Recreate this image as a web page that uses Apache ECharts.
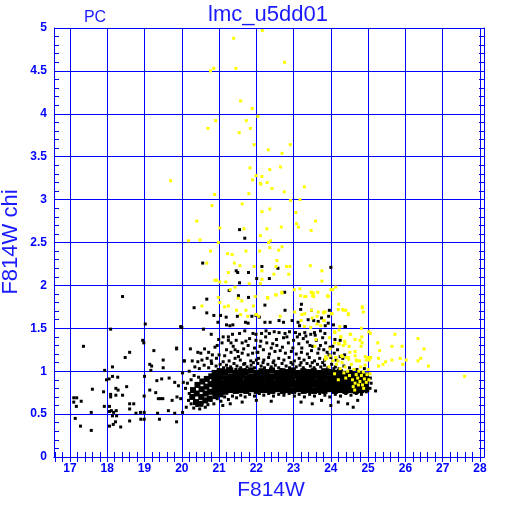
<!DOCTYPE html>
<html><head><meta charset="utf-8">
<script src="https://cdn.jsdelivr.net/npm/echarts@6/dist/echarts.min.js"></script>
<style>html,body{margin:0;padding:0;background:#fff}#c{width:512px;height:512px}</style>
</head><body><div id="c"></div>
<script>
// ---- tick labels / ticks ----
const xTickLabels = [17,18,19,20,21,22,23,24,25,26,27,28];
const xMinorTicks = [16.6,16.8,17,17.2,17.4,17.6,17.8,18,18.2,18.4,18.6,18.8,19,19.2,19.4,19.6,19.8,20,20.2,20.4,20.6,20.8,21,21.2,21.4,21.6,21.8,22,22.2,22.4,22.6,22.8,23,23.2,23.4,23.6,23.8,24,24.2,24.4,24.6,24.8,25,25.2,25.4,25.6,25.8,26,26.2,26.4,26.6,26.8,27,27.2,27.4,27.6,27.8,28];

// ---- data: black points, F814W vs chi ----
const blackLeft = [[17.10,0.69],[17.18,0.69],[17.10,0.64],[17.30,0.65],[17.17,0.59],[17.36,1.29],[17.14,0.45],[17.28,0.36],[17.57,0.31],[17.57,0.52],[17.60,0.79],[17.90,0.76],[17.92,0.59],[17.93,1.01],[17.98,0.90],[18.05,0.91],[18.06,0.59],[18.06,0.53],[18.06,0.36],[18.09,1.49],[18.09,0.73],[18.09,0.70],[18.11,0.54],[18.14,0.94],[18.14,1.05],[18.14,0.48],[18.16,0.38],[18.17,0.52],[18.22,0.41],[18.23,0.80],[18.23,0.72],[18.24,0.54],[18.25,0.48],[18.28,0.93],[18.29,0.78],[18.36,0.35],[18.41,1.87],[18.41,0.72],[18.48,1.16],[18.52,0.82],[18.60,1.22],[18.60,0.62],[18.60,0.56],[18.60,0.42],[18.71,0.62],[18.77,0.51],[18.89,0.52],[18.90,0.44],[18.95,1.36],[18.98,1.33],[18.99,0.71],[18.99,0.52],[18.99,0.44],[19.00,0.94],[19.02,1.55],[19.14,1.08],[19.14,0.78],[19.17,1.01],[19.19,1.06],[19.25,1.24],[19.30,0.75],[19.33,0.89],[19.35,0.51],[19.37,0.68],[19.40,0.44],[19.43,0.68],[19.46,0.91],[19.49,0.68],[19.50,1.13],[19.50,1.04],[19.66,0.92],[19.64,0.54],[19.74,0.66],[19.81,0.87],[19.81,0.51],[19.86,1.27],[19.86,0.41],[19.87,0.70],[19.91,0.83],[19.97,0.68],[19.97,1.52],[20.02,0.52],[20.02,0.98],[20.04,0.87],[20.06,1.12]];
const blackMid = [[20.33,1.74],[20.67,1.68],[21.04,1.65],[20.86,1.65],[20.97,1.57],[21.19,1.63],[21.49,1.64],[21.88,1.64],[21.99,1.65],[21.20,1.54],[21.29,1.53],[21.37,1.54],[21.71,1.57],[21.78,1.56],[20.00,1.51],[20.58,1.49],[20.79,1.43],[21.11,1.40],[21.25,1.40],[21.36,1.43],[21.55,1.44],[21.69,1.47],[21.91,1.44],[21.99,1.43],[20.99,1.37],[21.25,1.36],[21.32,1.33],[21.46,1.36],[21.62,1.33],[21.78,1.30],[21.82,1.38],[19.86,1.26],[20.23,1.26],[20.61,1.26],[20.72,1.22],[20.43,1.22],[20.51,1.21],[20.89,1.28],[20.82,1.19],[21.00,1.19],[21.20,1.25],[21.32,1.22],[21.43,1.25],[21.50,1.23],[21.62,1.21],[21.78,1.19],[21.90,1.21],[22.02,1.22],[20.07,1.12],[20.28,1.12],[20.43,1.11],[20.54,1.13],[20.68,1.15],[20.79,1.12],[20.93,1.15],[21.11,1.11],[21.27,1.12],[21.43,1.15],[21.57,1.13],[21.69,1.09],[21.85,1.12],[22.00,1.13]];
const blackRight = [[22.23,1.77],[23.21,1.78],[23.19,1.72],[22.77,1.71],[22.08,1.63],[22.23,1.57],[22.37,1.57],[22.61,1.59],[22.73,1.57],[22.96,1.59],[23.12,1.57],[23.16,1.53],[23.39,1.60],[23.54,1.59],[23.75,1.62],[23.93,1.56],[24.07,1.54],[24.39,1.52],[22.14,1.44],[22.26,1.47],[22.35,1.44],[22.48,1.46],[22.61,1.45],[22.77,1.44],[22.89,1.46],[23.05,1.45],[23.16,1.43],[23.30,1.45],[23.46,1.43],[23.56,1.45],[23.72,1.47],[23.84,1.44],[24.11,1.37],[24.25,1.36],[21.99,1.36],[22.12,1.35],[22.28,1.33],[22.44,1.32],[22.54,1.37],[22.73,1.39],[22.86,1.33],[23.00,1.36],[23.14,1.32],[23.26,1.38],[23.37,1.34],[23.51,1.29],[23.61,1.36],[23.72,1.30],[23.86,1.33],[23.98,1.28],[22.04,1.22],[22.19,1.25],[22.35,1.20],[22.50,1.23],[22.64,1.24],[22.78,1.21],[22.94,1.23],[23.07,1.20],[23.21,1.22],[23.37,1.20],[23.48,1.24],[23.65,1.21],[23.81,1.25],[23.95,1.19],[24.09,1.21],[24.25,1.17],[24.37,1.19],[22.06,1.15],[22.20,1.13],[22.33,1.16],[22.47,1.12],[22.60,1.15],[22.74,1.13],[22.88,1.16],[23.02,1.12],[23.15,1.15],[23.28,1.13],[23.42,1.16],[23.56,1.12],[23.70,1.15],[23.83,1.13],[24.00,1.16],[24.14,1.13],[24.32,1.15]];
const blackFringe = [[20.95,1.30],[21.08,1.33],[21.15,1.18],[21.38,1.29],[21.52,1.17],[21.66,1.26],[21.72,1.35],[21.95,1.27],[22.10,1.29],[22.25,1.40],[22.40,1.27],[22.55,1.30],[22.70,1.28],[22.82,1.40],[22.98,1.27],[23.10,1.40],[23.22,1.27],[23.33,1.41],[23.44,1.30],[23.58,1.42],[23.68,1.26],[23.78,1.39],[23.90,1.22],[24.05,1.29],[24.18,1.25],[20.98,1.02],[21.22,1.03],[21.45,1.02],[21.70,1.02],[21.92,1.10],[22.18,1.10],[22.45,1.10],[22.66,1.02],[22.93,1.10],[23.20,1.10],[23.50,1.10],[23.78,1.10],[24.08,1.03],[20.25,0.90],[20.33,0.95],[20.45,0.93],[20.20,1.00]];
const blackHigh = [[21.55,2.65],[21.69,2.55],[20.56,2.26],[21.46,2.17],[21.50,2.15],[21.79,2.15],[22.15,2.22],[22.58,2.20],[22.01,2.08],[22.35,2.08],[21.55,2.03],[21.27,1.94],[21.52,1.88],[21.79,1.86],[22.76,1.92],[20.67,1.84],[24.00,2.21],[23.48,1.71],[23.96,1.71],[23.94,1.64],[23.66,1.58],[23.85,1.53],[24.38,1.52]];
const blackEdgeTop = [[20.35,1.05],[20.47,1.03],[20.60,1.07],[20.72,1.04],[20.80,1.09],[20.92,1.06],[21.03,1.08],[21.12,1.04],[21.20,1.07],[21.31,1.05],[21.40,1.09],[21.48,1.06],[21.58,1.04],[21.66,1.08],[21.75,1.05],[21.86,1.07],[21.95,1.04],[22.04,1.09],[22.13,1.06],[22.22,1.04],[22.31,1.08],[22.40,1.05],[22.51,1.07],[22.60,1.04],[22.69,1.09],[22.80,1.06],[22.89,1.04],[22.98,1.08],[23.07,1.05],[23.17,1.07],[23.26,1.04],[23.36,1.09],[23.45,1.06],[23.55,1.04],[23.64,1.08],[23.73,1.05],[23.83,1.07],[23.92,1.04],[24.02,1.08],[24.12,1.05],[24.22,1.03],[24.35,1.06],[24.50,1.04],[24.70,1.02],[24.90,1.03]];
const blackEdgeBottom = [[20.25,0.62],[20.32,0.57],[20.40,0.60],[20.48,0.56],[20.55,0.63],[20.63,0.58],[20.70,0.61],[20.78,0.66],[20.86,0.62],[20.95,0.68],[21.05,0.65],[21.15,0.70],[21.25,0.67],[21.36,0.71],[21.47,0.69],[21.58,0.72],[21.70,0.70],[21.82,0.73],[21.95,0.71],[22.08,0.74],[22.20,0.72],[22.33,0.74],[22.46,0.71],[22.60,0.73],[22.74,0.72],[22.88,0.74],[23.02,0.71],[23.15,0.73],[23.29,0.70],[23.43,0.73],[23.56,0.71],[23.70,0.74],[23.84,0.72],[23.97,0.70],[24.12,0.73],[24.26,0.71],[24.40,0.74],[24.54,0.72],[24.68,0.74],[24.82,0.73],[24.95,0.76],[25.05,0.80],[25.08,0.86],[25.06,0.92],[20.12,0.58],[20.18,0.66],[20.20,0.74],[20.10,0.80],[20.15,0.86],[21.10,0.60],[21.30,0.62],[21.62,0.64],[22.00,0.66],[22.40,0.65],[23.20,0.64],[23.50,0.62],[23.75,0.66],[24.00,0.60],[24.20,0.64],[24.45,0.62],[24.60,0.58],[24.72,0.66],[25.20,0.77]];
const blackCore = [[20.28,0.70],[20.30,0.78],[20.38,0.64],[20.40,0.74],[20.42,0.84],[20.50,0.62],[20.52,0.70],[20.53,0.79],[20.55,0.88],[20.63,0.66],[20.64,0.74],[20.66,0.82],[20.67,0.91],[20.75,0.68],[20.76,0.76],[20.77,0.85],[20.79,0.94],[20.90,0.71],[21.04,0.73],
[20.88,0.98],[21.02,1.00],[21.16,0.99],[21.30,1.01],[21.44,0.98],[21.58,1.00],[21.72,0.99],[21.86,1.01],[22.00,0.98],[22.14,1.00],[22.28,0.99],[22.42,1.01],[22.56,0.98],[22.70,1.00],[22.84,0.99],[22.98,1.01],[23.12,0.98],[23.26,1.00],[23.40,0.99],[23.54,1.00],[23.68,0.98],[23.82,1.00],[23.96,0.99],[24.10,0.98],[24.24,0.99],[24.38,0.97],[24.52,0.98],[24.66,0.96],[24.80,0.97],[24.94,0.95],
[20.89,0.93],[21.03,0.94],[21.17,0.92],[21.31,0.94],[21.45,0.93],[21.59,0.95],[21.73,0.92],[21.87,0.94],[22.01,0.93],[22.15,0.95],[22.29,0.93],[22.43,0.94],[22.57,0.92],[22.71,0.94],[22.85,0.93],[22.99,0.95],[23.13,0.92],[23.27,0.94],[23.41,0.93],[23.55,0.95],[23.69,0.93],[23.83,0.94],[23.97,0.92],[24.11,0.94],[24.25,0.93],[24.39,0.92],[24.53,0.93],[24.67,0.91],[24.81,0.92],[24.95,0.90],
[20.87,0.87],[21.01,0.88],[21.15,0.86],[21.29,0.88],[21.43,0.87],[21.57,0.89],[21.71,0.86],[21.85,0.88],[21.99,0.87],[22.13,0.89],[22.27,0.87],[22.41,0.88],[22.55,0.86],[22.69,0.88],[22.83,0.87],[22.97,0.89],[23.11,0.86],[23.25,0.88],[23.39,0.87],[23.53,0.89],[23.67,0.87],[23.81,0.88],[23.95,0.86],[24.09,0.88],[24.23,0.87],[24.37,0.86],[24.51,0.87],[24.65,0.86],[24.79,0.87],[24.93,0.85],
[20.88,0.82],[21.02,0.83],[21.16,0.81],[21.30,0.83],[21.44,0.82],[21.58,0.83],[21.72,0.81],[21.86,0.83],[22.00,0.82],[22.14,0.84],[22.28,0.82],[22.42,0.83],[22.56,0.81],[22.70,0.83],[22.84,0.82],[22.98,0.84],[23.12,0.81],[23.26,0.83],[23.40,0.82],[23.54,0.84],[23.68,0.82],[23.82,0.83],[23.96,0.81],[24.10,0.83],[24.24,0.82],[24.38,0.81],[24.52,0.82],[24.66,0.81],[24.80,0.82],[24.94,0.80],
[20.89,0.77],[21.03,0.78],[21.17,0.76],[21.31,0.78],[21.45,0.77],[21.59,0.78],[21.73,0.77],[21.87,0.79],[22.01,0.77],[22.15,0.78],[22.29,0.78],[22.43,0.77],[22.57,0.79],[22.71,0.77],[22.85,0.78],[22.99,0.77],[23.13,0.79],[23.27,0.77],[23.41,0.78],[23.55,0.77],[23.69,0.78],[23.83,0.77],[23.97,0.79],[24.11,0.77],[24.25,0.78],[24.39,0.77],[24.53,0.78],[24.67,0.77],[24.81,0.78],[24.95,0.79]];

// ---- data: yellow points ----
const yellowHigh = [[22.16,4.97],[21.39,4.88],[22.76,4.60],[20.86,4.53],[20.77,4.50],[21.45,4.53],[21.58,4.15],[21.89,4.06],[22.04,3.97],[20.91,3.92],[21.73,3.92],[20.70,3.83],[21.84,3.83],[21.54,3.78],[21.94,3.64],[22.91,3.64],[22.32,3.58],[22.69,3.54],[21.83,3.37],[22.36,3.35],[22.65,3.38],[21.99,3.28],[22.15,3.27],[21.90,3.23],[22.11,3.19],[22.29,3.20],[23.29,3.15],[19.70,3.22],
[22.12,3.18],[22.42,3.13],[20.88,3.06],[21.80,3.07],[22.75,3.09],[22.92,2.99],[23.17,3.00],[20.81,2.93],[21.62,2.95],[22.15,2.86],[22.36,2.89],[23.06,2.85],[20.40,2.75],[23.08,2.72],[23.13,2.68],[23.59,2.75],[22.67,2.68],[21.02,2.67],[21.67,2.66],[22.28,2.66],[23.47,2.64],[22.11,2.58],[20.18,2.52],[20.49,2.53],[20.98,2.50],[22.33,2.50],[22.38,2.52],[22.36,2.44],[22.69,2.45],[22.60,2.41],[20.77,2.40],[21.72,2.40],[22.09,2.40],[21.23,2.37],[21.35,2.36],[20.67,2.26],[21.41,2.26],[22.55,2.29],[21.56,2.23],[21.94,2.22],[22.53,2.22],[22.81,2.22],[22.90,2.22],[23.45,2.23],[21.25,2.15],[22.15,2.17],[22.47,2.13],[22.87,2.13],[20.89,2.06],[20.93,2.06],[21.02,2.04],[21.18,2.04],[22.15,2.07],[21.81,2.02],[22.11,2.02],[23.02,1.95],[23.17,1.96],[21.30,1.95],[21.43,1.98],[22.53,1.89],[22.69,1.91],[23.47,1.92],[23.65,1.92],[23.51,1.88],[23.19,1.88],[23.33,1.87],[20.98,1.86],[21.51,1.85],[21.97,1.87],[22.31,1.85]];
const yellowMid = [[23.76,2.17],[23.76,2.05],[24.13,1.98],[23.53,1.91],[24.00,1.95],[24.05,1.95],[23.93,1.87],[24.21,1.78],[24.32,1.72],[24.40,1.71],[24.47,1.66],[24.85,1.74],[24.87,1.69],[23.22,1.66],[23.20,1.59],[23.50,1.62],[23.66,1.69],[23.80,1.68],[23.85,1.69],[24.03,1.67],[23.82,1.59],[23.29,1.52],[23.46,1.51],[23.73,1.53],[24.24,1.52],[24.82,1.50],[24.10,1.46],[24.22,1.48],[24.53,1.43],[24.78,1.36],[24.26,1.40],[24.37,1.35],[24.84,1.33],[23.96,1.39],[24.10,1.33],[24.22,1.32],[24.33,1.30],[24.49,1.29],[24.51,1.22],[24.65,1.23],[24.28,1.18],[24.42,1.16],[24.68,1.13],[24.77,1.12],[24.95,1.13],[23.60,1.37],[23.57,1.29],[23.98,1.26],[23.89,1.15],[24.19,1.12],
[20.54,1.76],[21.02,1.80],[21.15,1.75],[21.25,1.76],[21.61,1.82],[21.47,1.71],[21.58,1.66],[21.72,1.71],[21.77,1.64],[21.92,1.76],[21.99,1.66],[22.06,1.64],[22.30,1.86],[22.52,1.89],[22.68,1.92],[23.30,1.87],[23.48,1.92],[23.54,1.87],[23.91,1.88],[22.00,1.66],[22.64,1.64],[23.03,1.69],[23.30,1.67],[23.48,1.71],[23.63,1.64],[23.81,1.69],[24.02,1.67],[23.63,1.55],[23.81,1.59],[24.20,1.72],[24.34,1.71],[24.47,1.67],[24.84,1.75],[24.11,1.45],[24.27,1.40],[24.38,1.32],[24.20,1.32],[24.83,1.40],[24.81,1.29],[25.06,1.44],[24.65,1.37],[24.52,1.43],[23.86,1.17],[23.98,1.18],[24.13,1.16],[24.31,1.17],[24.47,1.16],[24.65,1.18],[24.92,1.17],[25.00,1.16]];
const yellowFaint = [[25.02,1.46],[25.72,1.43],[25.26,1.33],[25.31,1.24],[25.64,1.29],[25.91,1.29],[26.34,1.38],[26.50,1.26],[26.41,1.15],[26.34,1.12],[26.62,1.06],[26.02,1.13],[25.86,1.15],[25.93,1.08],[25.64,1.13],[25.47,1.11],[25.40,1.08],[25.28,1.15],[25.28,1.06],[25.07,1.16],[25.03,1.13],[27.59,0.94]];
const yellowDense = [[24.30,1.10],[24.38,1.05],[24.45,1.00],[24.50,0.95],[24.55,1.08],[24.58,0.90],[24.62,1.02],[24.65,0.86],[24.68,0.96],[24.70,1.12],[24.72,0.92],[24.75,1.00],[24.78,0.88],[24.80,1.05],[24.82,0.95],[24.85,0.84],[24.87,0.99],[24.90,0.91],[24.92,1.07],[24.95,0.87],[24.97,0.96],[25.00,1.02],[25.02,0.90],[24.60,0.82],[24.40,0.92],[24.35,0.98],[24.48,1.14],[24.25,1.03],[24.15,1.08],[24.05,1.12],[24.88,0.80],[24.74,0.84],[24.64,0.78],[25.05,0.97],[24.10,0.97],[23.95,1.05],[23.85,1.14],[24.20,0.90]];

const BLUE = '#0000ff';
const chart = echarts.init(document.getElementById('c'), null, {renderer: 'canvas'});
const labelFont = {color: BLUE, fontFamily: 'Liberation Sans', fontWeight: 'bold', fontSize: 12};
function pts(name, data, color, size) {
  return {type: 'scatter', name, data, symbol: 'rect', symbolSize: size, itemStyle: {color, opacity: 1},
    xAxisIndex: 0, yAxisIndex: 0, silent: true, animation: false};
}
chart.setOption({
  backgroundColor: '#ffffff',
  animation: false,
  grid: {left: 54, right: 28, top: 28, bottom: 55, containLabel: false},
  xAxis: [
    {type: 'value', position: 'bottom', min: 16.57, max: 28.11,
     axisLine: {show: true, lineStyle: {color: BLUE, width: 1}},
     axisTick: {show: true, inside: true, length: 5, customValues: xMinorTicks, lineStyle: {color: BLUE}},
     axisLabel: Object.assign({show: true, margin: 6, customValues: xTickLabels}, labelFont),
     splitLine: {show: false}},
    {type: 'value', position: 'top', min: 16.57, max: 28.11,
     axisLine: {show: true, lineStyle: {color: BLUE, width: 1}},
     axisTick: {show: true, inside: true, length: 5, customValues: xMinorTicks, lineStyle: {color: BLUE}},
     axisLabel: {show: false}, splitLine: {show: false}},
    {type: 'value', position: 'bottom', min: 16.57, max: 28.11,
     axisLine: {show: false},
     axisTick: {show: false, customValues: xTickLabels},
     axisLabel: {show: false},
     splitLine: {show: true, lineStyle: {color: BLUE, width: 1}}}
  ],
  yAxis: [
    {type: 'value', position: 'left', min: 0, max: 5, interval: 0.5,
     axisLine: {show: true, lineStyle: {color: BLUE, width: 1}},
     axisTick: {show: true, inside: true, length: 5, lineStyle: {color: BLUE}},
     minorTick: {show: true, splitNumber: 5, length: 5, lineStyle: {color: BLUE}},
     axisLabel: Object.assign({show: true, margin: 7}, labelFont),
     splitLine: {show: true, lineStyle: {color: BLUE, width: 1}}},
    {type: 'value', position: 'right', min: 0, max: 5, interval: 0.5,
     axisLine: {show: true, lineStyle: {color: BLUE, width: 1}},
     axisTick: {show: true, inside: true, length: 5, lineStyle: {color: BLUE}},
     minorTick: {show: true, splitNumber: 5, length: 5, lineStyle: {color: BLUE}},
     axisLabel: {show: false}, splitLine: {show: false}}
  ],
  graphic: [
    {type: 'text', x: 95, y: 18, style: {text: 'PC', fill: '#1a1aff', font: '16px "Liberation Sans"', align: 'center', verticalAlign: 'middle'}},
    {type: 'text', x: 268, y: 15, style: {text: 'lmc_u5dd01', fill: '#1a1aff', font: '22px "Liberation Sans"', align: 'center', verticalAlign: 'middle'}},
    {type: 'text', x: 271, y: 490, style: {text: 'F814W', fill: '#1a1aff', font: '21px "Liberation Sans"', align: 'center', verticalAlign: 'middle'}},
    {type: 'text', x: 11, y: 242, rotation: Math.PI / 2, style: {text: 'F814W chi', fill: '#1a1aff', font: '22px "Liberation Sans"', align: 'center', verticalAlign: 'middle'}}
  ],
  series: [
    pts('core', blackCore, '#000000', 6),
    pts('edgeTop', blackEdgeTop, '#000000', 3),
    pts('edgeBottom', blackEdgeBottom, '#000000', 3),
    pts('left', blackLeft, '#000000', 3),
    pts('mid', blackMid, '#000000', 3),
    pts('right', blackRight, '#000000', 3),
    pts('fringe', blackFringe, '#000000', 3),
    pts('high', blackHigh, '#000000', 3),
    pts('yHigh', yellowHigh, '#ffff00', 3),
    pts('yMid', yellowMid, '#ffff00', 3),
    pts('yFaint', yellowFaint, '#ffff00', 3),
    pts('yDense', yellowDense, '#ffff00', 3)
  ]
});
</script></body></html>
